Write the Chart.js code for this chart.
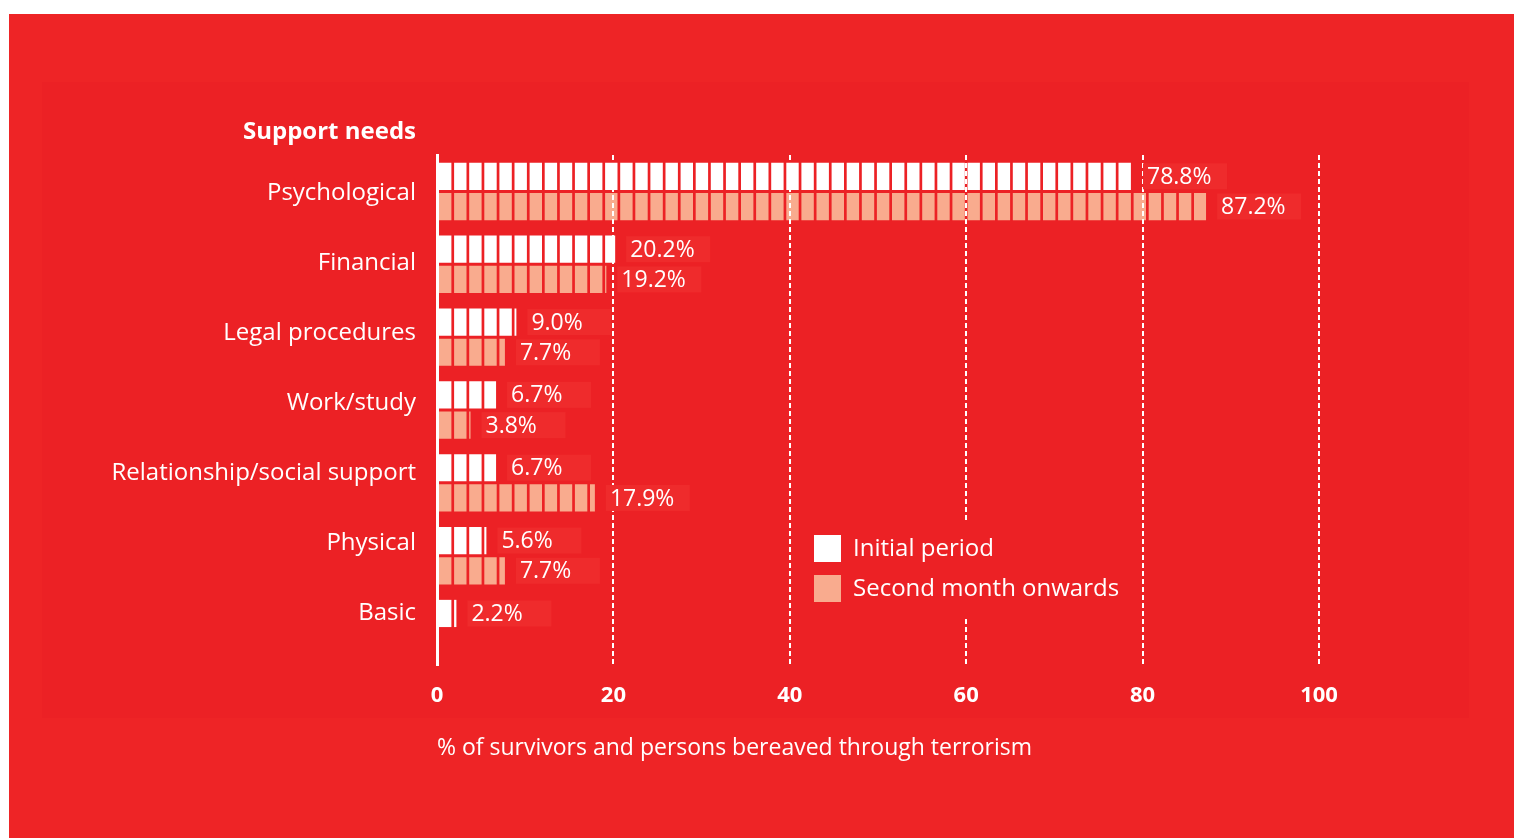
<!DOCTYPE html>
<html>
<head>
<meta charset="utf-8">
<script src="https://cdn.jsdelivr.net/npm/chart.js@4.4.0/dist/chart.umd.min.js"></script>
<style>
  html, body { margin: 0; padding: 0; background: #fff; }
  #wrap { position: relative; width: 1514px; height: 838px; }
</style>
</head>
<body>
<div id="wrap"><canvas id="chart"></canvas></div>
<script>
const categories = ["Psychological", "Financial", "Legal procedures", "Work/study",
  "Relationship/social support", "Physical", "Basic"];
const initialPeriod = [78.8, 20.2, 9.0, 6.7, 6.7, 5.6, 2.2];
const secondMonth = [87.2, 19.2, 7.7, 3.8, 17.9, 7.7, 0];
const seriesNames = ["Initial period", "Second month onwards"];
const xTicks = [0, 20, 40, 60, 80, 100];

const FONT = "'Open Sans', 'DejaVu Sans', sans-serif";
const OUTER_RED = "#ee2426";
const PANEL_RED = "#ec2125";
const BOX_RED = "#ef2b2c";
const WHITE = "#ffffff";
const PINK = "#f9ab8e";

// segmented bar fill: blocks of ~15.1px with a small gap
const patterns = {};
function segmented(color) {
  return (c) => {
    const area = c.chart.chartArea;
    if (!area) return color;
    const key = color + area.left;
    if (!patterns[key]) {
      const off = document.createElement("canvas");
      off.width = 151;
      off.height = 4;
      const g = off.getContext("2d");
      g.fillStyle = color;
      for (let k = 0; k < 10; k++) g.fillRect(k * 15.1, 0, 12.4, 4);
      const p = c.chart.ctx.createPattern(off, "repeat");
      p.setTransform(new DOMMatrix([1, 0, 0, 1, area.left + 2, 0]));
      patterns[key] = p;
    }
    return patterns[key];
  };
}

const backdrop = {
  id: "backdrop",
  beforeDraw(chart) {
    const { ctx, width, height } = chart;
    ctx.save();
    ctx.fillStyle = OUTER_RED;
    ctx.fillRect(9, 14, width - 9, height - 14);
    ctx.fillStyle = PANEL_RED;
    ctx.fillRect(42, 82, 1427, 636);
    ctx.restore();
  }
};

const extras = {
  id: "extras",
  afterDraw(chart) {
    const { ctx, chartArea } = chart;
    ctx.save();

    // title
    ctx.fillStyle = WHITE;
    ctx.textAlign = "right";
    ctx.textBaseline = "middle";
    ctx.font = "bold 24px " + FONT;
    ctx.fillText("Support needs", chartArea.left - 21, 132);

    // category labels: evenly spread from the first bar pair to the last visible bar
    const metas = chart.data.datasets.map((d, i) => chart.getDatasetMeta(i));
    const n = chart.data.labels.length;
    const barMid = (i) => {
      const ys = [];
      metas.forEach((m, di) => {
        if (chart.data.datasets[di].data[i] > 0) ys.push(m.data[i].y);
      });
      return ys.reduce((a, b) => a + b, 0) / ys.length;
    };
    const yFirst = barMid(0) + 2, yLast = barMid(n - 1);
    ctx.font = "24px " + FONT;
    chart.data.labels.forEach((lab, i) => {
      const y = yFirst + (yLast - yFirst) * i / (n - 1);
      ctx.fillText(lab, chartArea.left - 21, y);
    });

    // value labels with their box
    ctx.textAlign = "left";
    ctx.font = "23px " + FONT;
    metas.forEach((m, di) => {
      m.data.forEach((bar, i) => {
        const v = chart.data.datasets[di].data[i];
        if (!(v > 0)) return;
        const tx = bar.x + 15;
        ctx.fillStyle = BOX_RED;
        ctx.fillRect(tx - 4, bar.y - 13, 84, 26);
        ctx.fillStyle = WHITE;
        ctx.fillText(v.toFixed(1) + "%", tx, bar.y + 1);
      });
    });

    // legend
    ctx.fillStyle = PANEL_RED;
    ctx.fillRect(800, 521, 335, 95);
    chart.data.datasets.forEach((d, i) => {
      const y = 535 + i * 40;
      ctx.fillStyle = i === 0 ? WHITE : PINK;
      ctx.fillRect(814, y, 27, 27);
      ctx.fillStyle = WHITE;
      ctx.font = "24px " + FONT;
      ctx.fillText(d.label, 853, y + 14);
    });
    ctx.restore();
  }
};

new Chart(document.getElementById("chart"), {
  type: "bar",
  data: {
    labels: categories,
    datasets: [
      { label: seriesNames[0], data: initialPeriod, backgroundColor: segmented(WHITE) },
      { label: seriesNames[1], data: secondMonth, backgroundColor: segmented(PINK) }
    ]
  },
  options: {
    indexAxis: "y",
    responsive: true,
    maintainAspectRatio: false,
    animation: false,
    categoryPercentage: 0.83,
    barPercentage: 0.9,
    borderWidth: 0,
    layout: { padding: { left: 437, right: 195, top: 155, bottom: 76 } },
    scales: {
      x: {
        min: 0,
        max: 100,
        afterBuildTicks: (scale) => { scale.ticks = xTicks.map(v => ({ value: v })); },
        ticks: {
          color: WHITE,
          padding: 18,
          font: { family: FONT, size: 22, weight: "bold" }
        },
        grid: {
          color: (c) => (c.tick && c.tick.value === 0 ? "rgba(0,0,0,0)" : WHITE),
          lineWidth: 2,
          drawTicks: false,
          z: 1
        },
        border: { display: false, dash: [5, 3] },
        title: {
          display: true,
          align: "start",
          text: "% of survivors and persons bereaved through terrorism",
          color: WHITE,
          font: { family: FONT, size: 23 },
          padding: { top: 7, bottom: 0 }
        }
      },
      y: {
        ticks: { display: false },
        grid: { display: false, drawTicks: false },
        border: { display: true, color: WHITE, width: 3 }
      }
    },
    plugins: {
      legend: { display: false },
      tooltip: { enabled: false }
    }
  },
  plugins: [backdrop, extras]
});
</script>
</body>
</html>
